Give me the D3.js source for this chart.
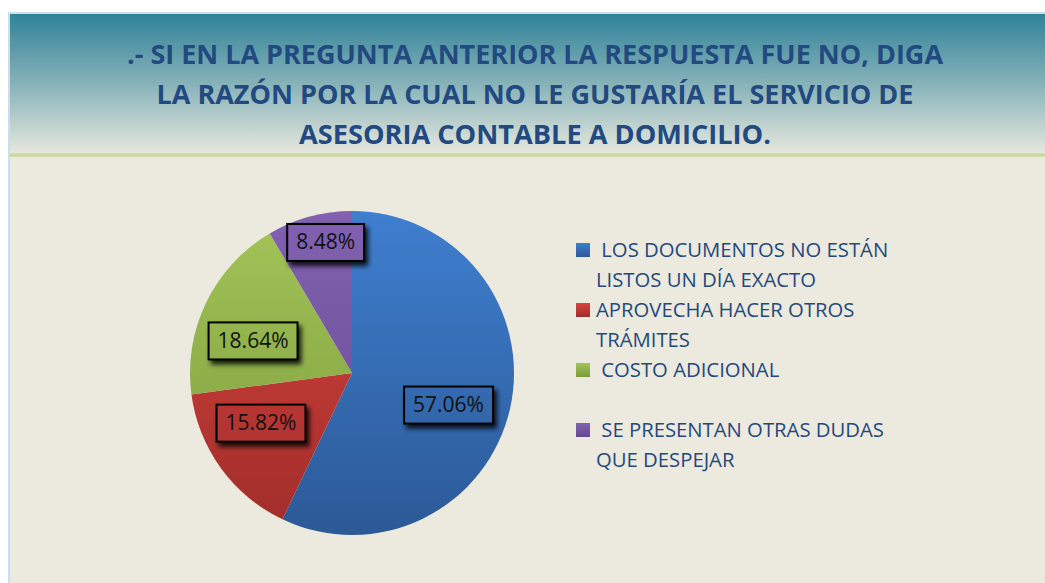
<!DOCTYPE html>
<html>
<head>
<meta charset="utf-8">
<script src="https://d3js.org/d3.v7.min.js"></script>
<style>
  body { margin: 0; background: #fff; }
  svg { display: block; }
  text { font-family: "Open Sans", "DejaVu Sans", sans-serif; white-space: pre; }
</style>
</head>
<body>
<div id="chart"></div>
<script>
// datos del gráfico
const titleLines = [
  ".- SI EN LA PREGUNTA ANTERIOR LA RESPUESTA FUE NO, DIGA",
  "LA RAZÓN POR LA CUAL NO LE GUSTARÍA EL SERVICIO DE",
  "ASESORIA CONTABLE A DOMICILIO."
];
const categories = [
  [" LOS DOCUMENTOS NO ESTÁN", "LISTOS UN DÍA EXACTO"],
  ["APROVECHA HACER OTROS", "TRÁMITES"],
  [" COSTO ADICIONAL"],
  [" SE PRESENTAN OTRAS DUDAS", "QUE DESPEJAR"]
];
const values = [57.06, 15.82, 18.64, 8.48];

// colores (claro arriba, oscuro abajo)
const colorsTop = ["#3f7fd0", "#d8443e", "#a3c558", "#8262b0"];
const colorsBottom = ["#2b5996", "#a02d2a", "#7b9a3b", "#644890"];

// colocación de etiquetas tipo "best fit"
const labelRadius = [0.627, 0.64, 0.643, 0.825];
const labelShift = [5.4, 7.5, -7.7, 3.9];

const W = 1045, H = 583;
const svg = d3.select("#chart").append("svg")
  .attr("width", W).attr("height", H);
const defs = svg.append("defs");

// fondo del panel
const hdr = defs.append("linearGradient").attr("id", "hdr")
  .attr("x1", 0).attr("y1", 0).attr("x2", 0).attr("y2", 1);
hdr.append("stop").attr("offset", 0).attr("stop-color", "#2f8299");
hdr.append("stop").attr("offset", 0.5).attr("stop-color", "#85b2b8");
hdr.append("stop").attr("offset", 1).attr("stop-color", "#e6e7de");

svg.append("rect").attr("x", 10).attr("y", 13).attr("width", W - 10).attr("height", H - 13)
  .attr("fill", "#ece9df");
svg.append("rect").attr("x", 10).attr("y", 13).attr("width", W - 10).attr("height", 140)
  .attr("fill", "url(#hdr)");
svg.append("rect").attr("x", 10).attr("y", 153).attr("width", W - 10).attr("height", 4)
  .attr("fill", "#d2deb0");
svg.append("rect").attr("x", 10).attr("y", 154).attr("width", W - 10).attr("height", 2)
  .attr("fill", "#c6d89c");
svg.append("rect").attr("x", 8).attr("y", 13).attr("width", 2).attr("height", H - 13)
  .attr("fill", "#cddcee");
svg.append("rect").attr("x", 8).attr("y", 12).attr("width", W - 8).attr("height", 2)
  .attr("fill", "#d3deec");

// título
const titleWidths = [816, 757, 472];
svg.append("g").selectAll("text").data(titleLines).join("text")
  .attr("x", 535)
  .attr("y", (d, i) => 64 + i * 40)
  .attr("text-anchor", "middle")
  .attr("font-size", 26)
  .attr("font-weight", 700)
  .attr("fill", "#224a80")
  .attr("textLength", (d, i) => titleWidths[i])
  .attr("lengthAdjust", "spacingAndGlyphs")
  .text(d => d);

// pastel
const cx = 352, cy = 373, r = 162;

values.forEach((v, i) => {
  const g = defs.append("linearGradient").attr("id", "sl" + i)
    .attr("gradientUnits", "userSpaceOnUse")
    .attr("x1", 0).attr("y1", -r).attr("x2", 0).attr("y2", r);
  g.append("stop").attr("offset", 0).attr("stop-color", colorsTop[i]);
  g.append("stop").attr("offset", 1).attr("stop-color", colorsBottom[i]);
});

const shadow = defs.append("filter").attr("id", "sh")
  .attr("x", "-30%").attr("y", "-40%").attr("width", "160%").attr("height", "190%");
shadow.append("feDropShadow").attr("dx", 3).attr("dy", 4).attr("stdDeviation", 2.5)
  .attr("flood-color", "#000").attr("flood-opacity", 0.85);

const pie = d3.pie().sort(null).value(d => d);
const arcs = pie(values);
const arc = d3.arc().innerRadius(0).outerRadius(r);

const pg = svg.append("g").attr("transform", `translate(${cx},${cy})`);
pg.selectAll("path").data(arcs).join("path")
  .attr("d", arc)
  .attr("fill", (d, i) => `url(#sl${i})`);

// etiquetas de datos
const lg = svg.append("g").attr("transform", `translate(${cx},${cy})`);
arcs.forEach((d, i) => {
  const mid = (d.startAngle + d.endAngle) / 2 + labelShift[i] * Math.PI / 180;
  const lr = labelRadius[i] * r;
  const x = Math.sin(mid) * lr, y = -Math.cos(mid) * lr;
  const t = lg.append("text")
    .attr("x", x).attr("y", y + 7.5)
    .attr("text-anchor", "middle")
    .attr("font-size", 21)
    .attr("fill", "#111")
    .text(values[i].toFixed(2) + "%");
  const w = t.node().getComputedTextLength() + 18;
  lg.insert("rect", "text")
    .attr("x", x - w / 2).attr("y", y - 18)
    .attr("width", w).attr("height", 37)
    .attr("fill", `url(#sl${i})`)
    .attr("stroke", "#000").attr("stroke-width", 2)
    .attr("filter", "url(#sh)");
});

// leyenda
const legend = svg.append("g");
categories.forEach((lines, i) => {
  const y0 = 257 + i * 60;
  const lq = defs.append("linearGradient").attr("id", "lq" + i)
    .attr("x1", 0).attr("y1", 0).attr("x2", 0).attr("y2", 1);
  lq.append("stop").attr("offset", 0).attr("stop-color", colorsTop[i]);
  lq.append("stop").attr("offset", 1).attr("stop-color", colorsBottom[i]);
  legend.append("rect")
    .attr("x", 576).attr("y", y0 - 14)
    .attr("width", 14).attr("height", 14)
    .attr("fill", `url(#lq${i})`);
  lines.forEach((ln, j) => {
    legend.append("text")
      .attr("x", 596).attr("y", y0 + j * 30)
      .attr("font-size", 20.3)
      .attr("fill", "#24497c")
      .text(ln);
  });
});
</script>
</body>
</html>
